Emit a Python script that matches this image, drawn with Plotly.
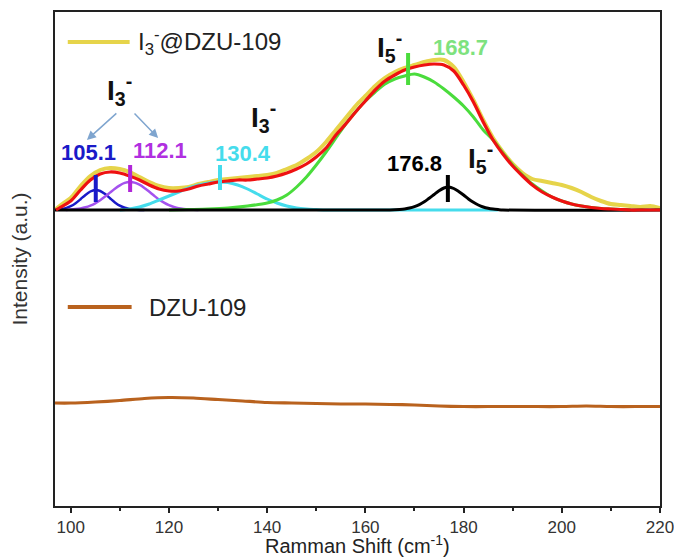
import plotly.graph_objects as go

# ---------------- data ----------------
# top spectrum heights (arbitrary units) above its own baseline
exp_x = [97, 98, 100, 102, 104, 106, 108, 110, 112, 114, 116, 118, 120, 122, 124, 126, 128, 130,
         132, 134, 136, 138, 140, 142, 144, 146, 148, 150, 152, 154, 156, 158, 160, 162, 164, 166,
         168, 170, 172, 174, 176, 178, 180, 182, 184, 186, 188, 190, 192, 194, 196, 198, 200, 202,
         204, 206, 208, 210, 212, 214, 216, 218, 220]
exp_y = [1, 5, 12, 24, 34, 40, 42, 41, 38, 33, 28, 24, 22, 22, 23, 26, 28, 30,
         31, 32, 33, 34, 35, 37, 41, 45, 51, 58, 68, 80, 92, 104, 114, 124, 132, 138,
         142, 145, 148, 150, 150, 143, 128, 110, 90, 72, 58, 46, 37, 31, 29, 27, 25, 22,
         18, 13, 9, 6, 5, 4, 3, 4, 2]

fit_x = [97, 98, 100, 102, 104, 106, 108, 110, 112, 114, 116, 118, 120, 122, 124, 126, 128, 130,
         132, 134, 136, 138, 140, 142, 144, 146, 148, 150, 152, 154, 156, 158, 160, 162, 164, 166,
         168, 170, 172, 174, 176, 178, 180, 182, 184, 186, 188, 190, 192, 194, 196, 198, 200, 202,
         204, 206, 208, 210, 212, 214, 216, 218, 220]
fit_y = [0, 3, 9, 20, 30, 36, 38, 37, 34, 30, 25, 21, 19, 19, 21, 24, 26, 28,
         29, 30, 30, 31, 32, 34, 37, 41, 46, 53, 62, 75, 86, 98, 109, 120, 129, 135,
         140, 143, 145, 146, 145, 139, 125, 108, 88, 70, 56, 44, 34, 25, 18, 13, 9, 6,
         4, 2.5, 1.5, 1, 0.5, 0, 0, 0, 0]

blue_x = [97, 98, 99, 100, 101, 102, 103, 104, 105, 106, 107, 108, 109, 110, 111, 112, 113, 114, 115]
blue_y = [0.3, 0.8, 1.9, 3.8, 6.8, 10.8, 15.1, 18.5, 20, 19.0, 15.9, 11.7, 7.6, 4.3, 2.2, 1.0, 0.4, 0.1, 0]

purple_x = [99, 100, 101, 102, 103, 104, 105, 106, 107, 108, 109, 110, 111, 112, 113, 114, 115,
            116, 117, 118, 119, 120, 121, 122, 123, 124, 125, 126]
purple_y = [0.1, 0.4, 0.9, 1.6, 2.7, 4.4, 6.7, 9.8, 13.4, 17.4, 21.3, 24.7, 27.1, 28, 27.4, 25.3, 22.1,
            18.2, 14.2, 10.4, 7.3, 4.8, 3.0, 1.7, 1.0, 0.5, 0.2, 0]

cyan_x = [110, 112, 114, 116, 118, 120, 122, 124, 126, 128, 130, 132, 134, 136, 138, 140, 142,
          144, 146, 148, 150, 152, 160, 170, 180, 187]
cyan_y = [0, 1, 3, 6, 10, 14, 18, 22, 25, 27, 28, 27.5, 25, 21, 16, 11, 7,
          4, 2, 1, 0.5, 0, 0, 0, 0, 0]

green_x = [120, 124, 128, 132, 136, 140, 142, 144, 146, 148, 150, 152, 154, 156, 158, 160, 162,
           164, 166, 168, 170, 172, 174, 176, 178, 180, 182, 184, 186, 188, 190, 192, 194, 196,
           198, 200, 202, 204, 206, 208, 210, 212, 214]
green_y = [0, 0.5, 1, 2, 4, 7, 10, 15, 23, 33, 45, 58, 72, 86, 98, 109, 118,
           126, 131, 134, 136, 133, 128, 121, 113, 104, 93, 80, 70, 57, 45, 35, 26, 19,
           13, 9, 6, 4, 2.5, 1.5, 1, 0.5, 0]

black_x = [96.8, 165, 167, 168, 169, 170, 171, 172, 173, 174, 175, 176, 177, 178, 179, 180, 181,
           182, 183, 184, 185, 186, 187, 188, 220]
black_y = [0, 0, 0.5, 1, 2, 3.4, 5.4, 8.2, 11.8, 15.5, 19.2, 22, 23, 21.5, 18.5, 15, 11,
           7.7, 5, 3, 1.7, 0.9, 0.4, 0, 0]

dzu_x = [96.8, 100, 105, 110, 115, 120, 125, 130, 135, 140, 145, 150, 155, 160, 165, 170, 175,
         180, 185, 190, 195, 200, 205, 210, 215, 220]
dzu_y = [4, 4, 5, 6.5, 8.5, 9.5, 9, 7.5, 6, 4.5, 4, 3.5, 3, 3, 2.5, 2, 1,
         0.5, 0.5, 0.5, 0.5, 0.5, 1, 0.5, 0.5, 0.5]

peak_pos = [105.1, 112.1, 130.4, 168.7, 176.8]
peak_labels = ["105.1", "112.1", "130.4", "168.7", "176.8"]

x_ticks = [100, 120, 140, 160, 180, 200, 220]

# ---------------- styling / layout ----------------
TOP_OFFSET = 0
DZU_OFFSET = -197

C_YEL = "#E6D44A"
C_RED = "#EE1111"
C_BLUE = "#1A1AC8"
C_PURP = "#A452EE"
C_CYAN = "#45DCEC"
C_GREEN = "#4ADC3C"
C_BROWN = "#B9621E"

fig = go.Figure()


def add(x, y, color, width, off):
    fig.add_trace(go.Scatter(x=x, y=[v + off for v in y], mode="lines",
                             line=dict(color=color, width=width, shape="spline", smoothing=0.8),
                             showlegend=False, hoverinfo="skip"))


add(exp_x, exp_y, C_YEL, 4, TOP_OFFSET)
add(blue_x, blue_y, C_BLUE, 2.5, TOP_OFFSET)
add(purple_x, purple_y, C_PURP, 2.5, TOP_OFFSET)
add(cyan_x, cyan_y, C_CYAN, 3, TOP_OFFSET)
add(green_x, green_y, C_GREEN, 3, TOP_OFFSET)
add(black_x, black_y, "#000000", 3, TOP_OFFSET)
add(fit_x, fit_y, C_RED, 3.2, TOP_OFFSET)
add(dzu_x, dzu_y, C_BROWN, 3.2, DZU_OFFSET)

# peak tick markers (vertical bars at each fitted peak)
marker_colors = [C_BLUE, "#B026D8", C_CYAN, C_GREEN, "#000000"]
marker_span = [(8, 35), (18, 45), (20, 45), (125, 157), (8, 35)]
for p, c, (y0, y1) in zip(peak_pos, marker_colors, marker_span):
    fig.add_shape(type="line", x0=p, x1=p, y0=y0 + TOP_OFFSET, y1=y1 + TOP_OFFSET,
                  xref="x", yref="y", line=dict(color=c, width=4))

# legend-like samples
fig.add_shape(type="line", x0=99.4, x1=112.0, y0=168, y1=168, xref="x", yref="y",
              line=dict(color=C_YEL, width=4))
fig.add_shape(type="line", x0=99.4, x1=112.4, y0=-97, y1=-97, xref="x", yref="y",
              line=dict(color=C_BROWN, width=4))

ann = []
FT = "Arial, Liberation Sans, sans-serif"
ann.append(dict(x=113.3, y=168, text="I<sub>3</sub><sup>-</sup>@DZU-109", xanchor="left",
                showarrow=False, font=dict(family=FT, size=24, color="#222")))
ann.append(dict(x=115.5, y=-97, text="DZU-109", xanchor="left",
                showarrow=False, font=dict(family=FT, size=24, color="#222")))

lab_col = [C_BLUE, "#B030E0", C_CYAN, "#7EE27E", "#000000"]
lab_pos = [(103.7, 58), (118.2, 60), (135.1, 57), (179.3, 163), (170.1, 47)]
for t, c, (lx, ly) in zip(peak_labels, lab_col, lab_pos):
    ann.append(dict(x=lx, y=ly, text="<b>" + t + "</b>", showarrow=False,
                    font=dict(family=FT, size=22, color=c)))

ion = [("I<sub>3</sub><sup>-</sup>", 110.0, 120), ("I<sub>3</sub><sup>-</sup>", 139.2, 93),
       ("I<sub>5</sub><sup>-</sup>", 165.0, 163), ("I<sub>5</sub><sup>-</sup>", 183.4, 52)]
for t, lx, ly in ion:
    ann.append(dict(x=lx, y=ly, text="<b>" + t + "</b>", showarrow=False,
                    font=dict(family=FT, size=28, color="#111")))

for (x0, y0, x1, y1) in [(109.6, 98, 103.3, 70), (112.7, 98, 117.8, 72)]:
    ann.append(dict(x=x1, y=y1, ax=x0, ay=y0, axref="x", ayref="y", xref="x", yref="y",
                    text="", showarrow=True, arrowhead=2, arrowsize=1.2, arrowwidth=1.5,
                    arrowcolor="#7FA5CF"))

# x-axis title as a paper-anchored annotation so it sits just under the tick labels
ann.append(dict(x=0.5, y=-0.077, xref="paper", yref="paper", yanchor="middle",
                text="Ramman Shift (cm<sup>-1</sup>)", showarrow=False,
                font=dict(family=FT, size=20, color="#222")))

# the page body has an 8 px margin, so the figure is sized to end at the window edge
fig.update_layout(
    width=674, height=549,
    margin=dict(l=47, r=22, t=4, b=51),
    plot_bgcolor="white", paper_bgcolor="white",
    annotations=ann,
    xaxis=dict(range=[96.8, 220], tickvals=x_ticks, ticks="outside", ticklen=5, tickwidth=1.5,
               tickcolor="#222", showline=True, linecolor="#222", linewidth=1.5, mirror=True,
               showgrid=False, zeroline=False, automargin=False,
               minor=dict(tickvals=[110, 130, 150, 170, 190, 210], ticks="outside", ticklen=3,
                          tickwidth=1.5, tickcolor="#222"),
               tickfont=dict(family=FT, size=17, color="#333")),
    yaxis=dict(range=[-296, 198], showticklabels=False, ticks="", showline=True,
               linecolor="#222", linewidth=1.5, mirror=True, showgrid=False, zeroline=False,
               automargin=False,
               title=dict(text="Intensity (a.u.)", standoff=20,
                          font=dict(family=FT, size=21, color="#333"))),
)

fig.write_html("out.html")
